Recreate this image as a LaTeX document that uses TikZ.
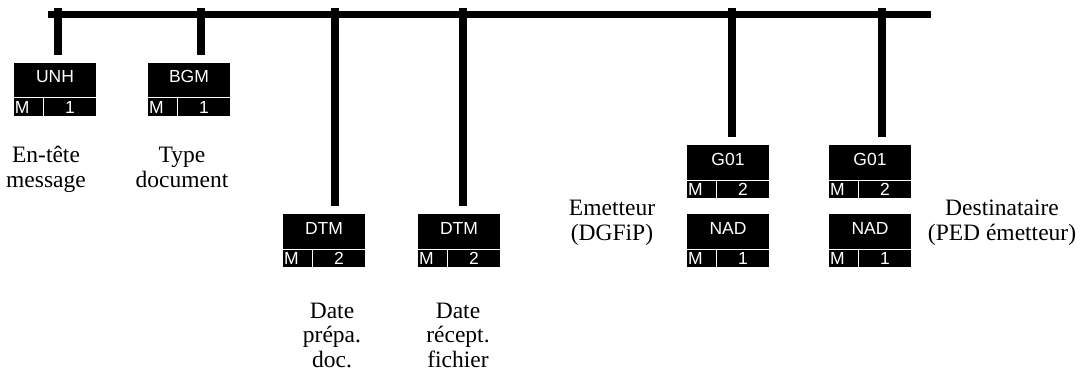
\documentclass[tikz,border=0pt]{standalone}
\usepackage{fontspec}
\setmainfont{Liberation Serif}
\newfontfamily\boxfont{Liberation Sans}
\tikzset{
  x=1pt, y=-1pt,
  busline/.style={line width=7.5pt, black, line cap=butt},
  stemline/.style={line width=8pt, black, line cap=butt, shorten >=8pt},
  segframe/.style={fill=black, draw=none, minimum width=82pt, minimum height=53pt, inner sep=0pt, outer sep=0pt},
  boxtxt/.style={text=white, font=\boxfont\fontsize{17.5}{19}\selectfont, inner sep=0pt, outer sep=0pt},
  divline/.style={white, line width=1pt},
  caption/.style={font=\fontsize{23.5}{24.5}\selectfont, align=center, inner sep=0pt, anchor=base}
}
\newcommand{\segbox}[5]{%
  \node[segframe, anchor=north west] (#1) at (#2,#3) {};
  \draw[divline] ([yshift=18pt]#1.south west) -- ([yshift=18pt]#1.south east);
  \draw[divline] ([xshift=29.5pt,yshift=18pt]#1.south west) -- ([xshift=29.5pt]#1.south west);
  \node[boxtxt, anchor=base] (#1-t) at ([yshift=-20pt]#1.north) {#4};
  \node[boxtxt, anchor=base west] (#1-m) at ([xshift=1pt,yshift=2.5pt]#1.south west) {M};
  \node[boxtxt, anchor=base] (#1-n) at ([xshift=56pt,yshift=2.5pt]#1.south west) {#5};
}
\begin{document}
\begin{tikzpicture}
\useasboundingbox (0,0) rectangle (1085,380);
% bus
\coordinate (busL) at (48,14.5);
\coordinate (busR) at (931,14.5);
\draw[busline] (busL) -- (busR);
% boxes
\segbox{unh}{14}{62.7}{UNH}{1}
\segbox{bgm}{148}{62.7}{BGM}{1}
\segbox{dtma}{283}{214}{DTM}{2}
\segbox{dtmb}{418}{214}{DTM}{2}
\segbox{gooa}{687}{145}{G01}{2}
\segbox{nada}{687}{214}{NAD}{1}
\segbox{goob}{829}{145}{G01}{2}
\segbox{nadb}{829}{214}{NAD}{1}
% stems
\coordinate (s1) at (57.5,8);
\coordinate (s2) at (201,8);
\coordinate (s3) at (335,8);
\coordinate (s4) at (462.5,8);
\coordinate (s5) at (732,8);
\coordinate (s6) at (882,8);
\draw[stemline] (s1) -- (s1 |- unh.north);
\draw[stemline] (s2) -- (s2 |- bgm.north);
\draw[stemline] (s3) -- (s3 |- dtma.north);
\draw[stemline] (s4) -- (s4 |- dtmb.north);
\draw[stemline] (s5) -- (s5 |- gooa.north);
\draw[stemline] (s6) -- (s6 |- goob.north);
% captions (anchor = baseline of last line)
\node[caption] (c1) at (46,187) {En-tête\\message};
\node[caption] (c2) at (182,187) {Type\\document};
\node[caption] (c3) at (332,367) {Date\\prépa.\\doc.};
\node[caption] (c4) at (458,367) {Date\\récept.\\fichier};
\node[caption] (c5) at (612,240) {Emetteur\\(DGFiP)};
\node[caption] (c6) at (1002,240) {Destinataire\\(PED émetteur)};
\end{tikzpicture}
\end{document}
